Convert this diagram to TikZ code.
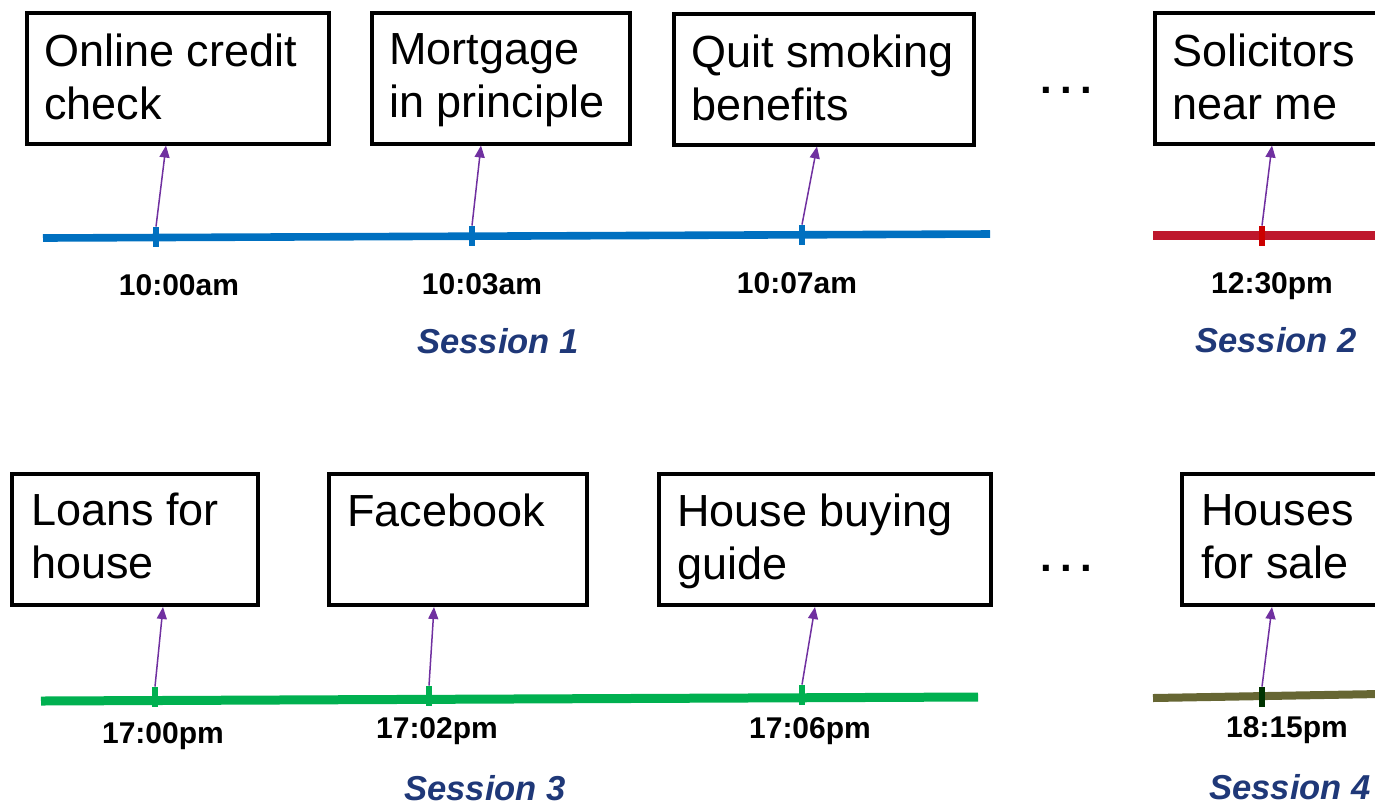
\documentclass[tikz,border=0pt]{standalone}
\usepackage{fontspec}
\setmainfont{Liberation Sans}
\usetikzlibrary{arrows.meta}
\definecolor{tlblue}{RGB}{0,112,192}
\definecolor{tlred}{RGB}{190,24,45}
\definecolor{tlredtick}{RGB}{204,0,0}
\definecolor{tlgreen}{RGB}{0,176,80}
\definecolor{tlolive}{RGB}{102,102,51}
\definecolor{tloltick}{RGB}{0,51,0}
\definecolor{arrpurple}{RGB}{112,48,160}
\definecolor{sessblue}{RGB}{31,56,120}
\tikzset{
  qbox/.style={draw=black, line width=2pt, fill=none, inner sep=0pt, anchor=north west},
  qtext/.style={anchor=north west, inner sep=0pt, align=left, font=\fontsize{22.5}{26.5}\selectfont},
  tline/.style={line width=#1},
  tick/.style={rectangle, inner sep=0pt, minimum width=2.6pt, minimum height=10pt},
  tlabel/.style={anchor=base, inner sep=0pt, font=\fontsize{15}{18}\selectfont\bfseries},
  slabel/.style={anchor=base, inner sep=0pt, text=sessblue, font=\fontsize{17.3}{20}\selectfont\bfseries\itshape},
  qarr/.style={draw=arrpurple, line width=0.75pt, -{Triangle[length=6pt,width=5pt]}},
  dots/.style={anchor=base, inner sep=0pt, font=\fontsize{21}{24}\selectfont\bfseries}
}
\begin{document}
\begin{tikzpicture}[x=0.5pt, y=-0.5pt]
\useasboundingbox (0,0) rectangle (1375,805);
\clip (0,0) rectangle (1375,805);

% ---------- Row 1 ----------
\node[qbox, minimum width=151pt, minimum height=65.5pt] (b1) at (25,10.5) {};
\node[qbox, minimum width=129pt, minimum height=65.5pt] (b2) at (370,10.5) {};
\node[qbox, minimum width=150pt, minimum height=65.5pt] (b3) at (672,11.5) {};
\node[qbox, minimum width=120pt, minimum height=65.5pt] (b4) at (1153,10.5) {};
\node[qtext] (x1) at (44,33) {Online credit\\check};
\node[qtext] (x2) at (389,33) {Mortgage\\in principle};
\node[qtext] (x3) at (691,34) {Quit smoking\\benefits};
\node[qtext] (x4) at (1172,33) {Solicitors\\near me};

\coordinate (l1s) at (43,238);
\coordinate (l1e) at (990,234);
\draw[tlblue, tline=3.8pt] (l1s) -- (l1e);
\coordinate (l2s) at (1153,235);
\coordinate (l2e) at (1380,235);
\draw[tlred, tline=4.5pt] (l2s) -- (l2e);

\node[tick, fill=tlblue] (t1) at (156,237) {};
\node[tick, fill=tlblue] (t2) at (472,236) {};
\node[tick, fill=tlblue] (t3) at (802,235) {};
\node[tick, fill=tlredtick] (t4) at (1262,236) {};

\draw[qarr] (t1.north) -- (166,0 |- b1.south);
\draw[qarr] (t2.north) -- (481,0 |- b2.south);
\draw[qarr] (t3.north) -- (817,0 |- b3.south);
\draw[qarr] (t4.north) -- (1272,0 |- b4.south);

\node[tlabel] (d1) at (179,295) {10:00am};
\node[tlabel] (d2) at (482,294) {10:03am};
\node[tlabel] (d3) at (797,293) {10:07am};
\node[tlabel] (d4) at (1272,293) {12:30pm};

\node[slabel] (s1) at (498,353) {Session 1};
\node[slabel] (s2) at (1276,352) {Session 2};

\node[dots] (e1) at (1066,93) {.\hspace{0.2em}.\hspace{0.2em}.};

% ---------- Row 2 ----------
\node[qbox, minimum width=123pt, minimum height=65.5pt] (b5) at (10,472) {};
\node[qbox, minimum width=129pt, minimum height=65.5pt] (b6) at (327,472) {};
\node[qbox, minimum width=166pt, minimum height=65.5pt] (b7) at (657,472) {};
\node[qbox, minimum width=110pt, minimum height=65.5pt] (b8) at (1180,472) {};
\node[qtext] (x5) at (31,493) {Loans for\\house};
\node[qtext] (x6) at (347,493) {Facebook};
\node[qtext] (x7) at (677,493) {House buying\\guide};
\node[qtext] (x8) at (1201,494) {Houses\\for sale};

\coordinate (l3s) at (41,701);
\coordinate (l3e) at (978,697);
\draw[tlgreen, tline=4.5pt] (l3s) -- (l3e);
\coordinate (l4s) at (1153,698);
\coordinate (l4e) at (1380,694);
\draw[tlolive, tline=4pt] (l4s) -- (l4e);

\node[tick, fill=tlgreen] (t5) at (155,697) {};
\node[tick, fill=tlgreen] (t6) at (429,696) {};
\node[tick, fill=tlgreen] (t7) at (802,695) {};
\node[tick, fill=tloltick] (t8) at (1262,697) {};

\draw[qarr] (t5.north) -- (163,0 |- b5.south);
\draw[qarr] (t6.north) -- (434,0 |- b6.south);
\draw[qarr] (t7.north) -- (815,0 |- b7.south);
\draw[qarr] (t8.north) -- (1272,0 |- b8.south);

\node[tlabel] (d5) at (163,743) {17:00pm};
\node[tlabel] (d6) at (437,738) {17:02pm};
\node[tlabel] (d7) at (810,738) {17:06pm};
\node[tlabel] (d8) at (1287,737) {18:15pm};

\node[slabel] (s3) at (485,800) {Session 3};
\node[slabel] (s4) at (1290,799) {Session 4};

\node[dots] (e2) at (1066,571) {.\hspace{0.2em}.\hspace{0.2em}.};
\end{tikzpicture}
\end{document}
